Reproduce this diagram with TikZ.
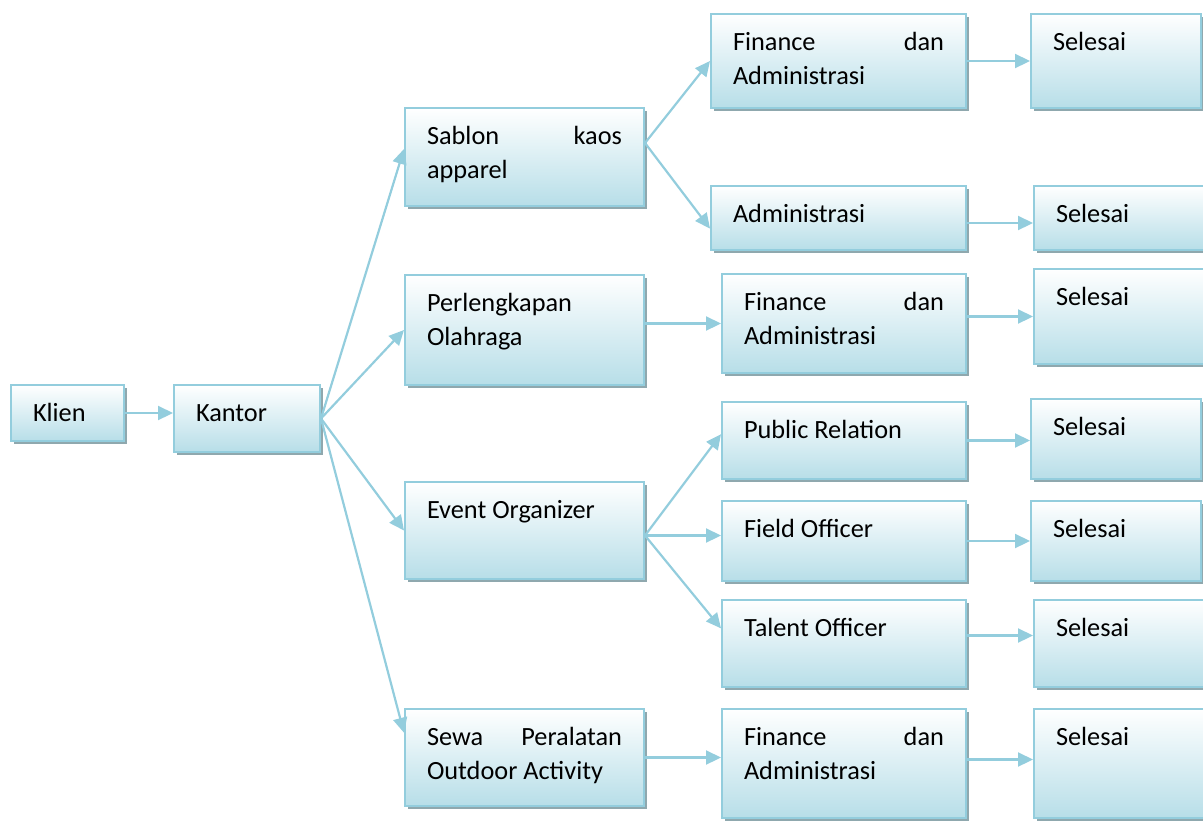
\documentclass[tikz,border=0pt]{standalone}
\usepackage{fontspec}
\setmainfont{Carlito}
\usepackage{xcolor}
\definecolor{flowline}{HTML}{93CDDD}
\definecolor{flowbot}{HTML}{B7DEE8}
\definecolor{flowshade}{HTML}{8FA8AE}
\usetikzlibrary{arrows.meta,positioning,shadows,calc}
\tolerance=10000
\hyphenpenalty=10000
\tikzset{
  flowbox/.style={draw=flowline,line width=2pt,top color=white,bottom color=flowbot,
    drop shadow={shadow xshift=3pt,shadow yshift=-3pt,fill=flowshade,opacity=1},
    anchor=north west,inner xsep=22pt,inner ysep=0pt,align=justify,text height=36pt,
    font=\fontsize{26.3}{34}\selectfont},
  flowflow/.style={-{Triangle[length=15pt,width=14pt]},line width=2.2pt,draw=flowline},
}
\begin{document}
\begin{tikzpicture}[x=1pt,y=-1pt]
\useasboundingbox (0,0) rectangle (1203,820);
\node[flowbox,text width=69pt,text depth=20pt](klien) at (10,384){Klien};
\node[flowbox,text width=102pt,text depth=31pt](kantor) at (173,384){Kantor};
\node[flowbox,text width=195pt,text depth=62pt](sablon) at (404,107){Sablon kaos apparel};
\node[flowbox,text width=195pt,text depth=74pt](perleng) at (404,274){Perlengkapan Olahraga};
\node[flowbox,text width=195pt,text depth=61pt](event) at (404,481){Event Organizer};
\node[flowbox,text width=195pt,text depth=61pt](sewa) at (404,708){Sewa Peralatan Outdoor Activity};
\node[flowbox,text width=211pt,text depth=58pt](fin1) at (710,13){Finance dan Administrasi};
\node[flowbox,text width=211pt,text depth=28pt](admin) at (710,185){Administrasi};
\node[flowbox,text width=200pt,text depth=63pt](fin2) at (721,273){Finance dan Administrasi};
\node[flowbox,text width=200pt,text depth=41pt](public) at (721,401){Public Relation};
\node[flowbox,text width=200pt,text depth=44pt](field) at (721,500){Field Officer};
\node[flowbox,text width=200pt,text depth=51pt](talent) at (721,599){Talent Officer};
\node[flowbox,text width=200pt,text depth=73pt](fin3) at (721,708){Finance dan Administrasi};
\node[flowbox,text width=126pt,text depth=58pt](done1) at (1030,13){Selesai};
\node[flowbox,text width=126pt,text depth=28pt](done2) at (1033,185){Selesai};
\node[flowbox,text width=126pt,text depth=59pt](done3) at (1033,268){Selesai};
\node[flowbox,text width=126pt,text depth=44pt](done4) at (1030,398){Selesai};
\node[flowbox,text width=126pt,text depth=44pt](done5) at (1030,500){Selesai};
\node[flowbox,text width=126pt,text depth=51pt](done6) at (1033,599){Selesai};
\node[flowbox,text width=126pt,text depth=73pt](done7) at (1033,708){Selesai};
\draw[flowflow](klien.east)--(klien.east-|kantor.west);
\draw[flowflow](kantor.east)--($(sablon.north west)!0.42!(sablon.south west)$);
\draw[flowflow](kantor.east)--(perleng.west);
\draw[flowflow](kantor.east)--(event.west);
\draw[flowflow](kantor.east)--($(sewa.north west)!0.25!(sewa.south west)$);
\coordinate(sab-out) at ($(sablon.north east)!0.36!(sablon.south east)$);
\draw[flowflow](sab-out)--(fin1.west);
\draw[flowflow](sab-out)--($(admin.north west)!0.66!(admin.south west)$);
\draw[flowflow](fin2.west-|perleng.east)--(fin2.west);
\coordinate(ev-out) at ([yshift=-5pt]event.east);
\draw[flowflow](ev-out)--($(public.north west)!0.42!(public.south west)$);
\draw[flowflow](ev-out)--(ev-out-|field.west);
\draw[flowflow](ev-out)--($(talent.north west)!0.33!(talent.south west)$);
\draw[flowflow](sewa.east)--(sewa.east-|fin3.west);
\draw[flowflow](fin1.east)--(fin1.east-|done1.west);
\draw[flowflow]([yshift=-5pt]admin.east)--([yshift=-5pt]admin.east-|done2.west);
\draw[flowflow](done3.west-|fin2.east)--(done3.west);
\draw[flowflow](public.east)--(public.east-|done4.west);
\draw[flowflow](field.east)--(field.east-|done5.west);
\draw[flowflow]([yshift=8pt]talent.east)--([yshift=8pt]talent.east-|done6.west);
\draw[flowflow]([yshift=4pt]fin3.east)--([yshift=4pt]fin3.east-|done7.west);
\end{tikzpicture}
\end{document}
